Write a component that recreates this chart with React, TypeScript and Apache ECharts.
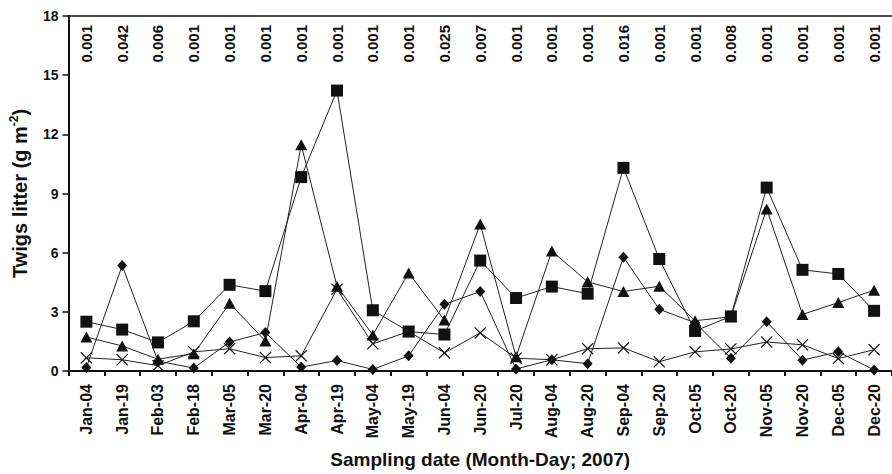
import React, { useEffect, useRef } from "react";
import * as echarts from "echarts";

const categories = ["Jan-04","Jan-19","Feb-03","Feb-18","Mar-05","Mar-20","Apr-04","Apr-19","May-04","May-19","Jun-04","Jun-20","Jul-20","Aug-04","Aug-20","Sep-04","Sep-20","Oct-05","Oct-20","Nov-05","Nov-20","Dec-05","Dec-20"];
const pValues = ["0.001","0.042","0.006","0.001","0.001","0.001","0.001","0.001","0.001","0.001","0.025","0.007","0.001","0.001","0.001","0.016","0.001","0.001","0.008","0.001","0.001","0.001","0.001"];
const squareSeries = [2.5, 2.1, 1.45, 2.52, 4.37, 4.05, 9.83, 14.22, 3.08, 2.0, 1.85, 5.6, 3.7, 4.28, 3.92, 10.3, 5.68, 2.03, 2.77, 9.3, 5.13, 4.92, 3.05];
const triangleSeries = [1.72, 1.27, 0.6, 0.88, 3.43, 1.52, 11.47, 4.3, 1.83, 4.97, 2.58, 7.45, 0.72, 6.08, 4.52, 4.03, 4.3, 2.55, 2.75, 8.22, 2.87, 3.47, 4.1];
const diamondSeries = [0.18, 5.35, 0.5, 0.15, 1.47, 1.95, 0.2, 0.53, 0.08, 0.77, 3.38, 4.03, 0.1, 0.57, 0.37, 5.77, 3.13, 2.45, 0.65, 2.5, 0.55, 0.97, 0.05];
const crossSeries = [0.67, 0.57, 0.27, 0.97, 1.13, 0.68, 0.77, 4.15, 1.38, 2.0, 0.92, 1.93, 0.65, 0.57, 1.13, 1.17, 0.47, 0.97, 1.12, 1.47, 1.33, 0.63, 1.08];
const yTicks = { min: 0, max: 18, interval: 3 };

const FONT = "'Liberation Sans', Arial, Helvetica, sans-serif";
const CROSS = "path://M0,0.7L0.7,0L5,4.3L9.3,0L10,0.7L5.7,5L10,9.3L9.3,10L5,5.7L0.7,10L0,9.3L4.3,5Z";

export default function App() {
  const ref = useRef<HTMLDivElement>(null);
  useEffect(() => {
    document.body.style.margin = "0";
    const chart = echarts.init(ref.current!, undefined, { renderer: "svg" });
    const lineStyle = { color: "#222", width: 1 };
    const mk = (name: string, data: number[], symbol: string, size: any) => ({
      name,
      type: "line",
      data,
      symbol,
      symbolSize: size,
      showAllSymbol: true,
      lineStyle,
      itemStyle: { color: "#111" },
      emphasis: { disabled: true },
      z: 3,
    });
    chart.setOption({
      animation: false,
      backgroundColor: "#fff",
      grid: { left: 66, top: 16, bottom: 98, right: -8, containLabel: false },
      xAxis: [
        {
          type: "category",
          data: categories,
          position: "bottom",
          boundaryGap: true,
          axisLine: { show: true, lineStyle: { color: "#111", width: 2 } },
          axisTick: { show: true, length: 5, lineStyle: { color: "#111", width: 2 } },
          axisLabel: {
            interval: 0,
            rotate: 90,
            margin: 13,
            fontSize: 16,
            fontWeight: "bold",
            fontFamily: FONT,
            color: "#111",
          },
          name: "Sampling date (Month-Day; 2007)",
          nameLocation: "middle",
          nameGap: 79,
          nameTextStyle: { fontSize: 19, fontWeight: "bold", fontFamily: FONT, color: "#111" },
          splitLine: { show: false },
        },
        {
          type: "category",
          data: pValues,
          position: "top",
          boundaryGap: true,
          axisLine: { show: true, lineStyle: { color: "#111", width: 1.5 } },
          axisTick: { show: false },
          axisLabel: {
            interval: 0,
            inside: true,
            rotate: -90,
            margin: 9,
            fontSize: 15,
            fontWeight: "bold",
            fontFamily: FONT,
            color: "#111",
          },
          splitLine: { show: false },
        },
      ],
      yAxis: {
        type: "value",
        min: yTicks.min,
        max: yTicks.max,
        interval: yTicks.interval,
        axisLine: { show: true, lineStyle: { color: "#111", width: 2 } },
        axisTick: { show: true, length: 6, lineStyle: { color: "#111", width: 1.5 } },
        axisLabel: { margin: 10, fontSize: 14, fontWeight: "bold", fontFamily: FONT, color: "#111" },
        splitLine: { show: false },
        name: "Twigs litter (g m{s|-2})",
        nameLocation: "middle",
        nameGap: 30,
        nameTextStyle: {
          fontSize: 20,
          fontWeight: "bold",
          fontFamily: FONT,
          color: "#111",
          lineHeight: 24,
          rich: {
            s: { fontSize: 12, fontWeight: "bold", fontFamily: FONT, color: "#111", verticalAlign: "top", lineHeight: 24 },
          },
        },
      },
      series: [
        mk("cross", crossSeries, CROSS, 12),
        mk("diamond", diamondSeries, "diamond", [10, 11]),
        mk("triangle", triangleSeries, "triangle", [12, 11]),
        mk("square", squareSeries, "rect", 12),
      ],
    });
    return () => chart.dispose();
  }, []);
  return (
    <div
      ref={ref}
      style={{ position: "fixed", left: 0, top: 0, width: 892, height: 474, background: "#fff" }}
    />
  );
}
